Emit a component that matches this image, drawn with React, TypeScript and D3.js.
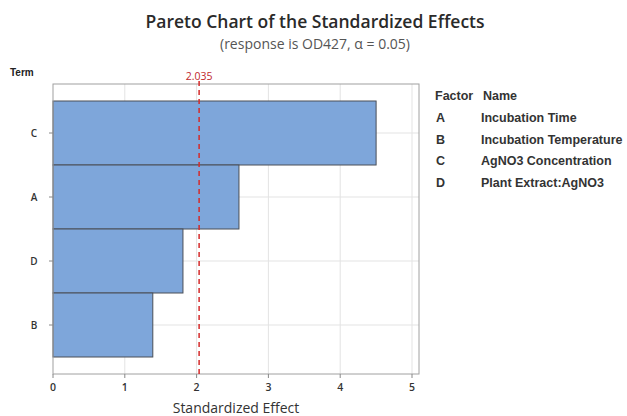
import React from "react";
import * as d3 from "d3";

// Pareto effects (sorted largest first)
const terms = ["C", "A", "D", "B"];
const effects = [4.5, 2.59, 1.81, 1.39];
const refValue = 2.035;
const xTicks = [0, 1, 2, 3, 4, 5];

const factorCodes = ["A", "B", "C", "D"];
const factorNames = [
  "Incubation Time",
  "Incubation Temperature",
  "AgNO3 Concentration",
  "Plant Extract:AgNO3",
];

const W = 627;
const H = 416;
const frame = { left: 53, top: 84, right: 419, bottom: 374 };
const FONT = "'Open Sans', 'Noto Sans', sans-serif";
const LEG_FONT = "'Liberation Sans', Arial, sans-serif";

export default function App() {
  const x = d3.scaleLinear().domain([0, 5]).range([53, 412]);
  const y = d3
    .scaleBand<string>()
    .domain(terms)
    .range([frame.top + 17, frame.bottom - 17])
    .padding(0);

  return (
    <svg
      width={W}
      height={H}
      viewBox={`0 0 ${W} ${H}`}
      style={{ position: "absolute", left: 0, top: 0, background: "#fff" }}
    >
      <text x={315} y={28} textAnchor="middle" fontFamily={FONT} fontSize={17.5} fontWeight={600} fill="#2a2a2a">
        Pareto Chart of the Standardized Effects
      </text>
      <text x={315} y={49} textAnchor="middle" fontFamily={FONT} fontSize={14} fill="#555">
        (response is OD427, α = 0.05)
      </text>

      <text x={10} y={76} fontFamily={LEG_FONT} fontSize={10} fontWeight="bold" fill="#222">
        Term
      </text>

      {/* grid */}
      {xTicks.slice(1).map((t) => (
        <line key={t} x1={x(t)} x2={x(t)} y1={frame.top} y2={frame.bottom} stroke="#e3e3e3" />
      ))}
      {terms.map((t) => {
        const cy = (y(t) ?? 0) + y.bandwidth() / 2;
        return <line key={t} x1={frame.left} x2={frame.right} y1={cy} y2={cy} stroke="#e3e3e3" />;
      })}

      {/* bars */}
      {terms.map((t, i) => (
        <rect
          key={t}
          x={x(0)}
          y={y(t)}
          width={x(effects[i]) - x(0)}
          height={y.bandwidth()}
          fill="#7ea6da"
          stroke="#4a4f57"
          strokeWidth={1}
        />
      ))}

      {/* frame */}
      <rect
        x={frame.left}
        y={frame.top}
        width={frame.right - frame.left}
        height={frame.bottom - frame.top}
        fill="none"
        stroke="#a0a0a0"
      />

      {/* reference line */}
      <line
        x1={x(refValue)}
        x2={x(refValue)}
        y1={frame.top - 3}
        y2={frame.bottom}
        stroke="#d42a2a"
        strokeWidth={1.5}
        strokeDasharray="5,4"
      />
      <text x={x(refValue)} y={80} textAnchor="middle" fontFamily={FONT} fontSize={10.5} fill="#c0282d">
        {refValue.toFixed(3)}
      </text>

      {/* x axis ticks */}
      {xTicks.map((t) => (
        <g key={t}>
          <line x1={x(t)} x2={x(t)} y1={frame.bottom} y2={frame.bottom + 4} stroke="#888" />
          <text x={x(t)} y={frame.bottom + 17} textAnchor="middle" fontFamily={FONT} fontSize={10.5} fontWeight={600} fill="#333">
            {t}
          </text>
        </g>
      ))}
      <text x={236} y={413} textAnchor="middle" fontFamily={FONT} fontSize={14} fill="#333">
        Standardized Effect
      </text>

      {/* y axis ticks */}
      {terms.map((t) => {
        const cy = (y(t) ?? 0) + y.bandwidth() / 2;
        return (
          <g key={t}>
            <line x1={frame.left - 4} x2={frame.left} y1={cy} y2={cy} stroke="#888" />
            <text x={34} y={cy + 3.5} textAnchor="middle" fontFamily={FONT} fontSize={10} fontWeight={600} fill="#333">
              {t}
            </text>
          </g>
        );
      })}

      {/* legend */}
      <text x={435} y={100} fontFamily={LEG_FONT} fontSize={12.5} fontWeight="bold" fill="#333">
        Factor
      </text>
      <text x={483} y={100} fontFamily={LEG_FONT} fontSize={12.5} fontWeight="bold" fill="#333">
        Name
      </text>
      {factorCodes.map((c, i) => (
        <g key={c}>
          <text x={436} y={122 + i * 21.7} fontFamily={LEG_FONT} fontSize={12.5} fontWeight="bold" fill="#333">
            {c}
          </text>
          <text x={481} y={122 + i * 21.7} fontFamily={LEG_FONT} fontSize={12.5} fontWeight="bold" fill="#333">
            {factorNames[i]}
          </text>
        </g>
      ))}
    </svg>
  );
}
